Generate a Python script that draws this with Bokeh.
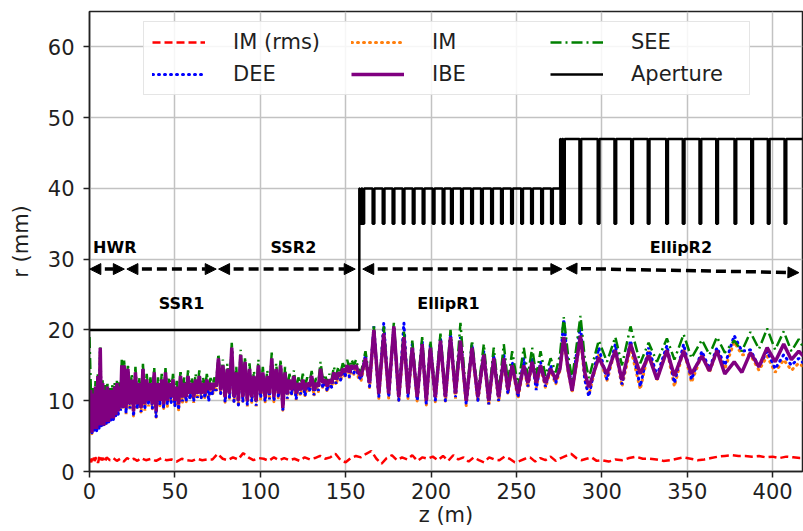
import math
from bokeh.plotting import figure
from bokeh.models import (ColumnDataSource, Range1d, FixedTicker, Legend, LegendItem,
                          Arrow, NormalHead)
from bokeh.core.properties import value
from bokeh.embed import file_html
from bokeh.resources import INLINE

# ---------------- data ----------------
x_ticks = [0, 50, 100, 150, 200, 250, 300, 350, 400]
y_ticks = [0, 10, 20, 30, 40, 50, 60]

# beam envelope positions z (m), shared by the four envelope series
z = [
    # HWR
    0.0, 0.7, 1.4, 2.1, 2.8, 3.5, 4.2, 4.9, 5.6, 6.3, 7.0, 7.7, 8.4, 9.1, 9.8, 10.5, 11.2, 11.9,
    12.6, 13.3, 14.0, 14.7, 15.4, 16.1, 16.8, 17.5, 18.2, 18.9, 19.6,
    # SSR1
    20.3, 21.4, 22.5, 23.6, 24.7, 25.8, 26.9, 28.0, 29.1, 30.2, 31.3, 32.4, 33.5, 34.6, 35.7,
    36.8, 37.9, 39.0, 40.1, 41.2, 42.3, 43.4, 44.5, 45.6, 46.7, 47.8, 48.9, 50.0, 51.1, 52.2,
    53.3, 54.4, 55.5, 56.6, 57.7, 58.8, 59.9, 61.0, 62.1, 63.2, 64.3, 65.4, 66.5, 67.6, 68.7,
    69.8, 70.9, 72.0, 73.1, 74.2,
    # SSR2
    75.5, 76.8, 78.1, 79.4, 80.7, 82.0, 83.3, 84.6, 85.9, 87.2, 88.5, 89.8, 91.1, 92.4, 93.7,
    95.0, 96.3, 97.6, 98.9, 100.2, 101.5, 102.8, 104.1, 105.4, 106.7, 108.0, 109.3, 110.6,
    111.9, 113.2, 114.5, 115.8, 117.1, 118.4, 119.7, 121.0, 122.3, 123.6, 124.9, 126.2, 127.5,
    128.8, 130.1, 131.4, 132.7, 134.0, 135.3, 136.6, 137.9, 139.2, 140.5, 141.8, 143.1, 144.4,
    145.7, 147.0, 148.3, 149.6, 150.9, 152.2, 153.5, 154.8, 156.1, 157.4,
    # EllipR1
    159.0, 161.6, 164.0, 166.5, 169.4, 172.3, 175.2, 178.2, 181.1, 184.1, 186.5, 189.0, 191.9,
    194.8, 197.2, 199.6, 202.5, 205.5, 208.4, 211.4, 214.3, 217.2, 220.6, 224.0, 227.4, 230.9,
    233.8, 236.7, 239.6, 242.6, 245.0, 247.5, 250.9, 254.3, 256.7, 259.2, 261.6, 264.1, 267.0,
    270.0, 273.0, 275.5,
    # EllipR2
    277.7, 280.2, 282.6, 287.5, 290.0, 292.4, 298.2, 303.0, 307.9, 311.8, 316.8, 322.5, 327.4,
    332.3, 338.1, 342.5, 347.9, 352.5, 358.6, 363.0, 367.4, 372.0, 377.5, 382.0, 387.0, 392.0,
    396.8, 401.5, 406.5, 411.0, 415.3, 418.0,
]

r_ibe = [
    8.0, 11.5, 5.5, 11.0, 6.0, 12.0, 6.0, 13.5, 6.5, 17.5, 6.5, 12.5, 6.5, 11.5, 7.0, 12.0, 7.0,
    11.5, 7.5, 11.5, 7.5, 12.0, 8.0, 12.5, 8.5, 12.0, 9.0, 15.0, 9.0,
    15.0, 9.0, 14.5, 9.5, 13.0, 8.5, 14.0, 9.5, 12.5, 9.0, 14.5, 9.5, 13.0, 10.0, 12.5, 9.5,
    14.0, 8.5, 12.5, 10.0, 13.0, 9.5, 14.0, 10.0, 12.5, 10.5, 13.0, 10.0, 12.0, 9.5, 13.5, 10.5,
    12.5, 10.5, 13.5, 11.0, 12.5, 10.5, 13.0, 11.0, 13.5, 11.0, 12.5, 11.0, 13.0, 11.5, 12.5,
    11.5, 12.5, 12.0,
    16.0, 11.5, 15.0, 10.5, 14.5, 11.0, 17.5, 10.5, 14.0, 10.0, 16.5, 10.5, 15.5, 10.0, 14.5,
    10.5, 13.5, 10.0, 15.0, 11.0, 14.0, 10.5, 13.5, 11.0, 16.0, 10.5, 14.5, 11.0, 15.0, 9.0,
    14.0, 11.0, 13.0, 11.5, 13.5, 11.0, 12.5, 11.5, 13.0, 11.5, 12.5, 12.0, 13.5, 11.5, 12.5,
    12.0, 14.5, 12.5, 13.0, 12.0, 13.0, 12.5, 14.0, 13.0, 14.0, 13.5, 14.5, 14.0, 15.0, 14.0,
    15.0, 14.5, 15.0, 14.0,
    13.5, 16.0, 12.5, 20.0, 11.0, 19.5, 11.0, 20.5, 10.5, 19.0, 11.0, 17.5, 10.5, 18.0, 10.0,
    17.5, 10.5, 18.5, 10.5, 19.0, 11.0, 18.5, 10.0, 17.5, 10.5, 16.5, 10.0, 16.0, 10.5, 16.0,
    11.5, 15.0, 11.0, 15.0, 12.5, 15.5, 12.5, 15.0, 12.5, 14.5, 13.0, 14.5,
    19.0, 14.5, 11.4, 19.2, 14.0, 11.9, 16.1, 13.8, 17.1, 12.9, 18.0, 13.8, 16.4, 13.0, 17.1,
    13.5, 17.0, 13.8, 16.3, 14.2, 17.1, 13.8, 15.5, 14.0, 16.8, 14.8, 17.5, 15.5, 18.0, 15.8,
    17.0, 16.3,
]

r_see = [
    19.0, 12.5, 6.0, 11.8, 6.5, 12.8, 6.5, 14.0, 7.0, 17.8, 7.0, 13.0, 7.0, 12.2, 7.5, 12.6, 7.5,
    12.0, 8.0, 12.3, 8.0, 12.6, 8.5, 13.0, 9.0, 12.6, 9.5, 15.8, 9.5,
    15.8, 9.5, 15.2, 10.0, 13.8, 9.0, 14.8, 10.0, 13.3, 9.5, 15.2, 10.0, 13.8, 10.5, 13.3, 10.0,
    14.7, 9.0, 13.3, 10.5, 13.8, 10.0, 14.6, 10.5, 13.3, 11.0, 13.8, 10.5, 12.8, 10.0, 14.3,
    11.0, 13.3, 11.0, 14.3, 11.5, 13.3, 11.0, 13.8, 11.5, 14.3, 11.5, 13.3, 11.5, 13.8, 12.0,
    13.2, 12.0, 13.3, 12.5,
    16.6, 12.0, 15.8, 11.0, 15.2, 11.5, 18.2, 11.0, 14.8, 10.5, 17.2, 11.0, 16.2, 10.5, 15.3,
    11.0, 14.2, 10.5, 15.8, 11.5, 14.8, 11.0, 14.3, 11.5, 16.8, 11.0, 15.3, 11.5, 15.8, 9.5,
    14.8, 11.5, 13.8, 12.0, 14.3, 11.5, 13.3, 12.0, 13.8, 12.0, 13.3, 12.5, 14.2, 12.0, 13.2,
    12.5, 15.5, 13.0, 13.7, 12.5, 13.8, 13.0, 14.8, 13.5, 14.8, 14.0, 15.3, 14.5, 15.8, 14.5,
    15.8, 15.0, 15.8, 14.5,
    14.0, 17.0, 13.0, 20.5, 11.5, 20.5, 11.5, 21.0, 11.0, 20.0, 11.5, 18.5, 11.0, 19.0, 10.5,
    18.5, 11.0, 19.5, 11.0, 20.0, 11.5, 21.0, 10.5, 18.5, 11.0, 18.0, 10.5, 17.5, 11.0, 18.0,
    12.5, 17.0, 12.0, 17.5, 13.5, 17.5, 13.5, 17.0, 13.5, 16.0, 14.0, 16.5,
    21.8, 16.5, 13.0, 22.0, 16.0, 13.2, 18.5, 15.5, 19.0, 15.0, 20.5, 15.3, 18.2, 15.5, 18.8,
    15.8, 19.4, 16.0, 18.6, 16.5, 19.0, 16.8, 18.5, 17.0, 19.7, 17.3, 20.2, 17.2, 19.8, 17.0,
    18.7, 17.5,
]

r_dee = [
    7.5, 11.3, 5.2, 10.8, 5.6, 11.8, 5.7, 13.2, 6.0, 17.2, 6.2, 12.2, 6.3, 11.2, 6.6, 11.8, 6.8,
    11.3, 7.2, 11.2, 7.3, 11.8, 7.6, 12.2, 8.0, 11.8, 8.6, 14.8, 8.8,
    14.8, 8.2, 14.3, 8.9, 12.8, 7.8, 13.8, 8.9, 12.3, 8.4, 14.3, 8.7, 12.8, 9.4, 12.3, 8.9,
    13.8, 7.7, 12.3, 9.4, 12.8, 8.9, 13.8, 9.4, 12.3, 9.7, 12.8, 9.2, 11.8, 8.7, 13.3, 9.9,
    12.3, 9.9, 13.3, 10.2, 12.3, 9.9, 12.8, 10.4, 13.3, 10.4, 12.3, 10.4, 12.8, 9.9, 12.3,
    10.9, 12.3, 11.4,
    15.8, 11.0, 14.8, 9.8, 14.3, 10.4, 17.3, 9.9, 13.8, 9.4, 16.3, 9.8, 15.3, 9.4, 14.3, 9.9,
    13.3, 9.3, 14.8, 10.4, 13.8, 9.9, 13.3, 10.2, 15.8, 9.9, 14.3, 10.4, 14.8, 8.7, 13.8, 10.3,
    12.8, 10.9, 13.3, 10.2, 12.3, 10.9, 12.8, 10.7, 12.3, 11.4, 13.3, 10.8, 12.3, 11.4, 14.3,
    11.8, 12.8, 11.4, 12.8, 11.9, 13.8, 12.4, 13.8, 12.9, 14.3, 13.4, 14.8, 13.4, 14.8, 13.9,
    14.8, 13.5,
    13.0, 16.5, 12.0, 20.5, 10.5, 21.0, 10.5, 20.5, 10.0, 21.0, 10.5, 18.0, 10.0, 18.5, 9.5,
    18.0, 10.0, 19.0, 10.0, 19.5, 10.5, 19.0, 9.5, 18.0, 10.0, 17.0, 9.5, 16.5, 10.0, 16.5,
    11.0, 15.5, 10.5, 16.0, 12.0, 16.0, 11.5, 15.5, 12.0, 15.0, 12.5, 15.0,
    21.5, 15.0, 12.0, 20.8, 13.0, 10.6, 17.5, 13.0, 18.0, 12.3, 18.5, 12.0, 17.5, 13.5, 17.8,
    12.5, 18.0, 13.0, 17.0, 14.5, 17.5, 15.0, 19.2, 17.0, 17.2, 14.8, 17.0, 14.5, 16.5, 15.0,
    16.0, 15.3,
]

r_im = [
    7.6, 11.2, 5.3, 10.7, 5.7, 11.7, 5.8, 13.0, 6.2, 17.0, 6.3, 12.0, 6.4, 11.0, 6.7, 11.6, 6.9,
    11.2, 7.3, 11.0, 7.4, 11.6, 7.7, 12.0, 8.1, 11.6, 8.7, 14.6, 8.9,
    14.7, 8.1, 14.2, 8.7, 12.7, 7.6, 13.7, 8.7, 12.2, 8.2, 14.2, 8.6, 12.7, 9.2, 12.2, 8.7,
    13.7, 7.6, 12.2, 9.2, 12.7, 8.7, 13.7, 9.2, 12.2, 9.6, 12.7, 9.1, 11.7, 8.6, 13.2, 9.7,
    12.2, 9.7, 13.2, 10.1, 12.2, 9.7, 12.7, 10.2, 13.2, 10.2, 12.2, 10.2, 12.7, 10.6, 12.2,
    10.7, 12.2, 11.2,
    15.7, 10.8, 14.7, 9.7, 14.2, 10.2, 17.2, 9.7, 13.7, 9.2, 16.2, 9.7, 15.2, 9.2, 14.2, 9.7,
    13.2, 9.2, 14.7, 10.2, 13.7, 9.7, 13.2, 10.1, 15.7, 9.7, 14.2, 10.2, 14.7, 8.6, 13.7, 10.2,
    12.7, 10.7, 13.2, 10.1, 12.2, 10.7, 12.7, 10.6, 12.2, 11.2, 13.2, 10.7, 12.2, 11.2, 14.2,
    11.7, 12.7, 11.2, 12.7, 11.8, 13.7, 12.2, 13.7, 12.7, 14.2, 13.2, 14.7, 13.2, 14.7, 13.7,
    14.7, 13.3,
    12.8, 15.8, 11.8, 19.8, 10.3, 19.3, 10.3, 20.3, 9.8, 18.8, 10.3, 17.3, 9.8, 17.8, 9.3,
    17.3, 9.8, 18.3, 9.8, 18.8, 10.3, 18.3, 9.3, 17.3, 9.8, 16.3, 9.3, 15.8, 9.8, 15.8,
    10.8, 14.8, 10.3, 14.8, 11.8, 15.3, 11.8, 14.8, 11.8, 14.3, 12.3, 14.3,
    18.8, 14.2, 11.2, 18.8, 13.0, 10.8, 16.5, 12.8, 17.3, 12.0, 17.5, 11.6, 17.0, 13.0, 17.2,
    12.0, 17.3, 12.6, 16.5, 14.0, 17.0, 14.5, 18.3, 16.5, 16.5, 14.3, 16.3, 14.0, 15.8, 14.3,
    15.3, 14.8,
]

# rms beam size of IM
z_rms = [
    0, 1, 2, 3, 4, 5, 6, 7, 8, 9, 10, 12, 14, 16, 18, 20, 22, 24, 26, 28, 30,
    33, 36, 39, 42, 45, 48, 51, 54, 57, 60, 63, 66, 69, 72, 75, 78, 81, 84, 87, 90, 93, 96, 99,
    102, 105, 108, 111, 114, 117, 120, 123, 126, 129, 132, 135, 138, 141, 144, 147, 150, 153,
    156, 159, 162, 165, 168, 171, 174, 177, 180, 183, 186, 189, 192, 195, 198, 201, 204, 207,
    210, 213, 216, 219, 222, 225, 228, 231, 234, 237, 240, 243, 246, 249, 252, 255, 258, 261,
    264, 267, 270, 273, 276, 279, 282, 285, 288, 291, 294, 297, 300,
    304, 308, 312, 316, 320, 324, 328, 332, 336, 340, 344, 348, 352, 356, 360, 364, 368, 372,
    376, 380, 384, 388, 392, 396, 400, 404, 408, 412, 416, 418,
]
r_rms = [
    1.8, 1.3, 2.2, 1.5, 2.0, 1.2, 2.3, 1.6, 1.9, 1.3, 2.0,
    1.6, 1.9, 1.5, 1.8, 1.4, 1.9, 1.6, 1.8, 1.5, 1.9,
    1.6, 1.8, 1.5, 1.9, 1.6, 1.7, 1.4, 1.8, 1.6, 1.5, 1.8, 1.6, 1.7, 1.7, 2.5, 1.8, 1.6, 2.0,
    1.7, 2.6, 2.0, 1.6, 1.9,
    1.8, 1.5, 2.0, 1.6, 1.9, 1.6, 1.8, 1.5, 2.0, 1.7, 1.9, 2.2, 1.8, 2.0, 2.5, 1.6, 1.3, 1.9,
    2.2, 2.0,
    2.5, 2.9, 1.8, 1.1, 1.9, 2.3, 1.6, 2.0, 1.7, 2.3, 1.5, 2.0, 1.8, 2.1, 1.6, 2.2, 1.5, 2.3,
    1.7, 2.0,
    1.4, 2.0, 1.6, 1.3, 2.0, 1.7, 1.6, 2.1, 1.8, 1.3, 1.5, 1.8, 2.0, 1.4, 1.9, 1.6, 2.1, 1.5,
    1.9, 2.2,
    2.5, 1.9, 1.6, 1.8, 2.0, 1.5, 1.6,
    1.4, 1.7, 1.6, 1.9, 2.1, 1.8, 1.8, 1.7, 1.5, 1.6, 1.8, 2.0, 1.8, 1.6, 1.7, 1.9, 2.1, 2.2,
    2.3, 2.2, 2.2, 2.1, 2.2, 2.0, 2.1, 1.9, 2.1, 2.0, 1.9, 1.9,
]

# aperture: levels and cavity positions
ap_warm_r = 20.0          # HWR/SSR section aperture
ap_warm_end = 158.0
ap_ellip1_r = 40.0
ap_ellip1_end = 275.6
ap_ellip2_r = 47.0
ap_cavity_r = 35.0
ap_z_end = 418.0
ellip1_cav_z = [158.7, 160.3, 166.3, 172.2, 178.0, 183.9, 189.8, 195.6, 201.5, 207.3, 212.2,
                218.1, 224.0, 229.8, 235.7, 241.5, 247.4, 253.3, 259.1, 265.0, 270.8]
ellip2_cav_z = [276.3, 277.8, 287.4, 298.1, 307.9, 317.7, 327.4, 338.2, 347.9, 357.7, 367.5,
                378.2, 388.0, 397.7, 407.5]
cav_half_len = 0.5

# section arrows and names
sec_names = ["HWR", "SSR1", "SSR2", "EllipR1", "EllipR2"]
sec_z0 = [0.2, 21.9, 75.6, 160.0, 279.0]
sec_z1 = [20.4, 74.2, 155.6, 276.6, 415.4]
sec_r0 = [28.6, 28.6, 28.6, 28.6, 28.7]
sec_r1 = [28.6, 28.6, 28.6, 28.6, 28.1]
sec_label_z = [14.8, 53.9, 119.4, 210.2, 346.3]
sec_label_r = [31.65, 23.7, 31.65, 23.7, 31.65]

# ---------------- build aperture polyline ----------------
ap_z = [0.0, ap_warm_end, ap_warm_end]
ap_r = [ap_warm_r, ap_warm_r, ap_ellip1_r]
for c in ellip1_cav_z:
    ap_z += [c - cav_half_len, c - cav_half_len, c + cav_half_len, c + cav_half_len]
    ap_r += [ap_ellip1_r, ap_cavity_r, ap_cavity_r, ap_ellip1_r]
ap_z += [ap_ellip1_end, ap_ellip1_end]
ap_r += [ap_ellip1_r, ap_ellip2_r]
for c in ellip2_cav_z:
    ap_z += [c - cav_half_len, c - cav_half_len, c + cav_half_len, c + cav_half_len]
    ap_r += [ap_ellip2_r, ap_cavity_r, ap_cavity_r, ap_ellip2_r]
ap_z += [ap_z_end]
ap_r += [ap_ellip2_r]

n = min(len(z), len(r_ibe), len(r_see), len(r_dee), len(r_im))
env = ColumnDataSource(dict(z=z[:n], ibe=r_ibe[:n], see=r_see[:n], dee=r_dee[:n], im=r_im[:n]))
m = min(len(z_rms), len(r_rms))
rms = ColumnDataSource(dict(z=z_rms[:m], r=r_rms[:m]))
aper = ColumnDataSource(dict(z=ap_z, r=ap_r))

FONT = "DejaVu Sans"

p = figure(width=803, height=531, output_backend="svg", toolbar_location=None,
           x_range=Range1d(0, 417.5), y_range=Range1d(0, 65),
           min_border_left=89, min_border_right=1, min_border_top=11, min_border_bottom=60)
p.background_fill_color = "white"
p.border_fill_color = "white"
p.outline_line_color = "#222222"
p.outline_line_width = 1.5

for ax, ticks in ((p.xaxis, x_ticks), (p.yaxis, y_ticks)):
    ax.ticker = FixedTicker(ticks=ticks)
    ax.major_label_text_font = FONT
    ax.major_label_text_font_size = "21px"
    ax.major_label_text_color = "#1f1f1f"
    ax.axis_label_text_font = FONT
    ax.axis_label_text_font_size = "21px"
    ax.axis_label_text_font_style = "normal"
    ax.axis_label_text_color = "#1f1f1f"
    ax.axis_line_color = "#222222"
    ax.axis_line_width = 1.5
    ax.major_tick_line_color = "#222222"
    ax.major_tick_line_width = 1.5
    ax.major_tick_out = 6
    ax.major_tick_in = 0
    ax.minor_tick_out = 0
    ax.minor_tick_in = 0
p.xaxis.axis_label = "z (m)"
p.yaxis.axis_label = "r (mm)"
p.xaxis.major_label_standoff = 5
p.xaxis.axis_label_standoff = 1
p.yaxis.major_label_standoff = 9
p.yaxis.axis_label_standoff = 12

p.xgrid.ticker = FixedTicker(ticks=x_ticks)
p.ygrid.ticker = FixedTicker(ticks=y_ticks)
for g in (p.xgrid, p.ygrid):
    g.grid_line_color = "#c2c2c2"
    g.grid_line_width = 1.5

l_rms = p.line("z", "r", source=rms, line_color="#ff0000", line_width=2.5, line_dash="8 4")
l_im = p.line("z", "im", source=env, line_color="#ff7f0e", line_width=3, line_dash="1 5",
              line_cap="round")
l_dee = p.line("z", "dee", source=env, line_color="#0000ff", line_width=3, line_dash="1 5",
               line_cap="round")
l_see = p.line("z", "see", source=env, line_color="#008000", line_width=2.5,
               line_dash="11 4 2 4")
l_ibe = p.line("z", "ibe", source=env, line_color="#800080", line_width=3.5)
l_ap = p.line("z", "r", source=aper, line_color="black", line_width=2.5)

# section arrows
arr_src = ColumnDataSource(dict(x0=sec_z0, y0=sec_r0, x1=sec_z1, y1=sec_r1))
p.add_layout(Arrow(start=NormalHead(size=11, fill_color="black", line_color="black"),
                   end=NormalHead(size=11, fill_color="black", line_color="black"),
                   x_start="x0", y_start="y0", x_end="x1", y_end="y1", source=arr_src,
                   line_color="black", line_width=3.5, line_dash="10 5"))

lab_src = ColumnDataSource(dict(x=sec_label_z, y=sec_label_r, t=sec_names))
p.text("x", "y", text="t", source=lab_src, text_font=value(FONT), text_font_style="bold",
       text_font_size="16px", text_align="center", text_baseline="alphabetic",
       text_color="black")

legend = Legend(items=[
    LegendItem(label="IM (rms)", renderers=[l_rms]),
    LegendItem(label="DEE", renderers=[l_dee]),
    LegendItem(label="IM", renderers=[l_im]),
    LegendItem(label="IBE", renderers=[l_ibe]),
    LegendItem(label="SEE", renderers=[l_see]),
    LegendItem(label="Aperture", renderers=[l_ap]),
], location=(54, 376), ncols=3, orientation="vertical")
legend.label_text_font = FONT
legend.label_text_font_size = "21px"
legend.label_text_color = "#1f1f1f"
legend.glyph_width = 53
legend.glyph_height = 20
legend.label_standoff = 28
legend.label_width = 110
legend.spacing = 8
legend.padding = 8
legend.margin = 0
legend.border_line_color = "#cccccc"
legend.border_line_width = 1.2
legend.background_fill_alpha = 0.85
p.add_layout(legend)

open("out.html", "w").write(file_html(p, INLINE))
